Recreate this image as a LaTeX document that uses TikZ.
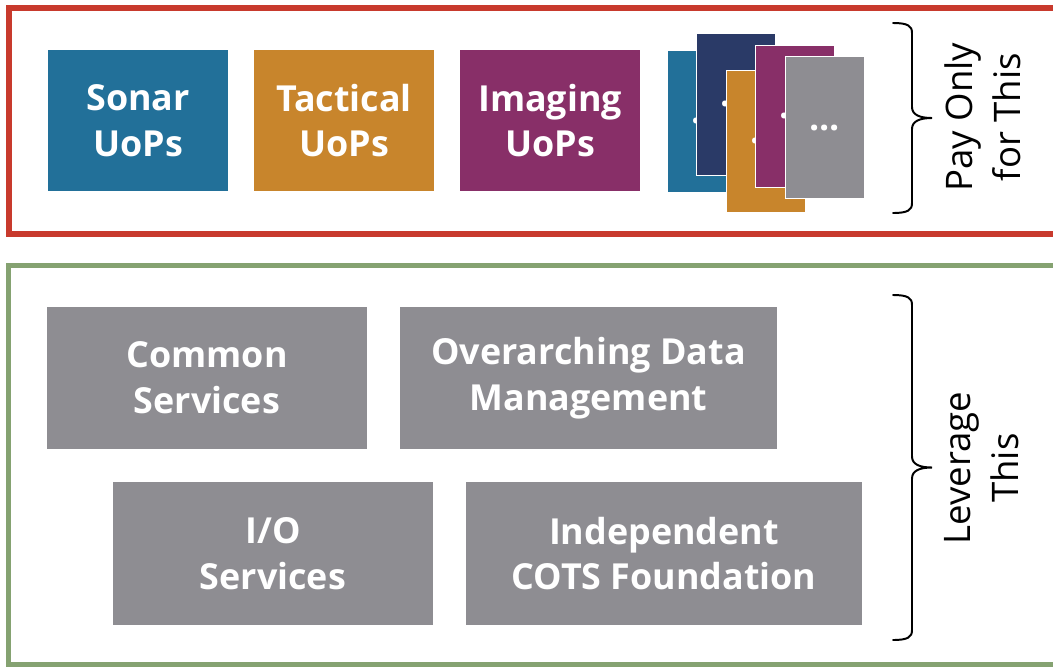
\documentclass[tikz,border=0pt]{standalone}
\usepackage{fontspec}
\setmainfont{Open Sans}
\usetikzlibrary{positioning}
\definecolor{sonarblue}{RGB}{34,112,153}
\definecolor{tactorange}{RGB}{200,133,44}
\definecolor{imgpurple}{RGB}{136,47,104}
\definecolor{stacknavy}{RGB}{42,58,103}
\definecolor{layergray}{RGB}{142,141,146}
\definecolor{payred}{RGB}{200,58,45}
\definecolor{levgreen}{RGB}{133,162,113}
\tikzset{node distance = 5.15cm, on grid,
	 boxfont/.style = {font = \bfseries\fontsize{25.5}{32.5}\selectfont},
	 uop/.style = {rectangle, boxfont, text = white, align = center,
		       inner sep = 0pt, minimum width = 4.5cm,
		       minimum height = 3.525cm},
	 card/.style = {rectangle, boxfont, text = white, draw = white,
			line width = 0.4pt, inner sep = 0pt,
			minimum width = 1.975cm, minimum height = 3.55cm},
	 layer/.style = {rectangle, boxfont, fill = layergray, text = white,
			 align = center, inner sep = 0pt, minimum height = 3.55cm},
	 frame/.style = {line width = 4.2pt},
	 bracestroke/.style = {line width = 1.4pt, line cap = round},
	 side/.style = {rotate = 90, align = center,
			font = \fontsize{26}{34}\selectfont}}
\begin{document}
\begin{tikzpicture}[x = 0.025cm, y = -0.025cm]
      \useasboundingbox (0,0) rectangle (1053,666);
      \clip (0,0) rectangle (1053,666);
      % frames
      \draw [frame, payred] (9,8) rectangle (1080,234);
      \draw [frame, levgreen] (8.5,265.5) rectangle (1080,664.5);
      % units of performance
      \node [uop, fill = sonarblue] (sonar) at (138,120.5) {Sonar\\UoPs};
      \node [uop, fill = tactorange] (tactical) [right = of sonar] {Tactical\\UoPs};
      \node [uop, fill = imgpurple] (imaging) [right = of tactical] {Imaging\\UoPs};
      \node [card, fill = sonarblue] (card1) at (706.5,121) {...};
      \node [card, fill = stacknavy] (card2) at (735.5,104) {...};
      \node [card, fill = tactorange] (card3) at (765.5,141) {...};
      \node [card, fill = imgpurple] (card4) at (794.5,116) {...};
      \node [card, fill = layergray] (card5) at (824.5,127.5) {...};
      % shared layers
      \node [layer, minimum width = 8cm] (common) at (207,378) {Common\\Services};
      \node [layer, minimum width = 9.425cm] (data) at (588.5,378) {Overarching Data\\Management};
      \node [layer, minimum width = 8cm] (io) at (273,553.5) {I/O\\Services};
      \node [layer, minimum width = 9.9cm] (cots) at (664,553.5) {Independent\\COTS Foundation};
      % braces
      \coordinate (paytop) at (893,23);
      \coordinate (paybot) at (893,213);
      \coordinate (levtop) at (893,295);
      \coordinate (levbot) at (893,640);
      \draw [bracestroke] (paytop) .. controls +(15,0) and +(0,-7) .. ++(19,10)
	    -- ++(0,74) .. controls +(0,8) and +(-12,0) .. ++(20,11)
	    .. controls +(-12,0) and +(0,-8) .. ++(-20,11)
	    -- ++(0,74) .. controls +(0,7) and +(15,0) .. (paybot);
      \draw [bracestroke] (levtop) .. controls +(15,0) and +(0,-7) .. ++(19,10)
	    -- ++(0,151.5) .. controls +(0,8) and +(-12,0) .. ++(20,11)
	    .. controls +(-12,0) and +(0,-8) .. ++(-20,11)
	    -- ++(0,151.5) .. controls +(0,7) and +(15,0) .. (levbot);
      \node [side] (pay) at (983,117) {Pay Only\\for This};
      \node [side] (leverage) at (982,468) {Leverage\\This};
\end{tikzpicture}
\end{document}
